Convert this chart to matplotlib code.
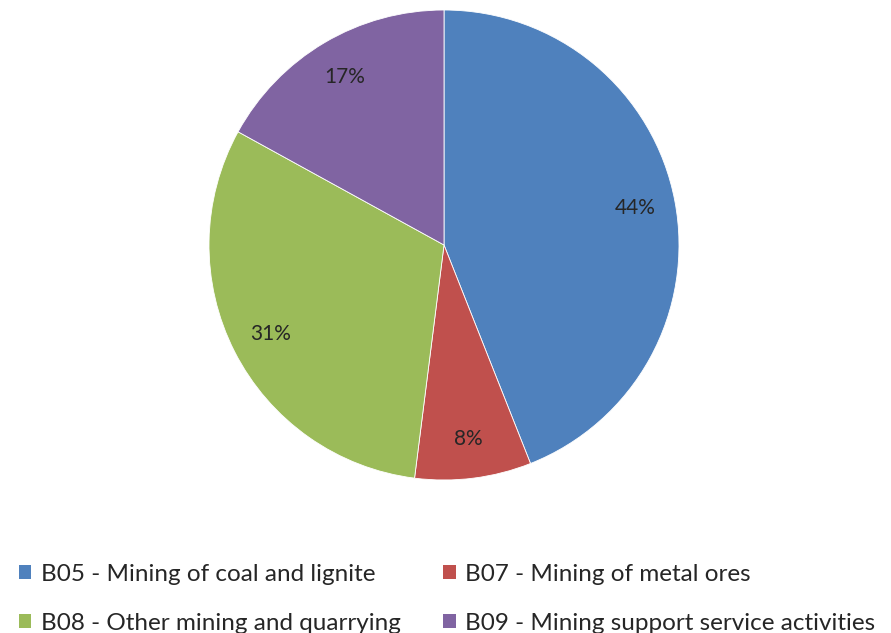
import matplotlib.pyplot as plt
from matplotlib.patches import Patch

labels = ["B05 - Mining of coal and lignite", "B07 - Mining of metal ores",
          "B08 - Other mining and quarrying", "B09 - Mining support service activities"]
shares = [44, 8, 31, 17]
colors = ["#4F81BD", "#C0504D", "#9BBB59", "#8064A2"]

plt.rcParams['font.family'] = ['Lato', 'DejaVu Sans']

fig = plt.figure(figsize=(8.91, 6.33), dpi=100)
ax = fig.add_axes([209 / 891, 1 - 480 / 633, 470 / 891, 470 / 633])

wedges, texts, autotexts = ax.pie(shares, colors=colors, startangle=90, counterclock=False,
                                  autopct="%d%%", pctdistance=0.83, radius=1,
                                  wedgeprops=dict(linewidth=0.6, edgecolor="white"),
                                  textprops=dict(fontsize=15, color="#262626"))
ax.set_xlim(-1, 1)
ax.set_ylim(-1, 1)
ax.set_aspect("equal")

# legend fills columns first, so reorder
order = [0, 2, 1, 3]
handles = [Patch(facecolor=colors[i], edgecolor="none") for i in order]
fig.legend(handles, [labels[i] for i in order], ncol=2, loc="lower left",
           bbox_to_anchor=(-0.003, -0.036), frameon=False, fontsize=17.5,
           handlelength=0.5, handleheight=0.5, handletextpad=0.4,
           columnspacing=1.75, labelspacing=1.15, labelcolor="#262626")

fig.savefig("out.png", dpi=100)
